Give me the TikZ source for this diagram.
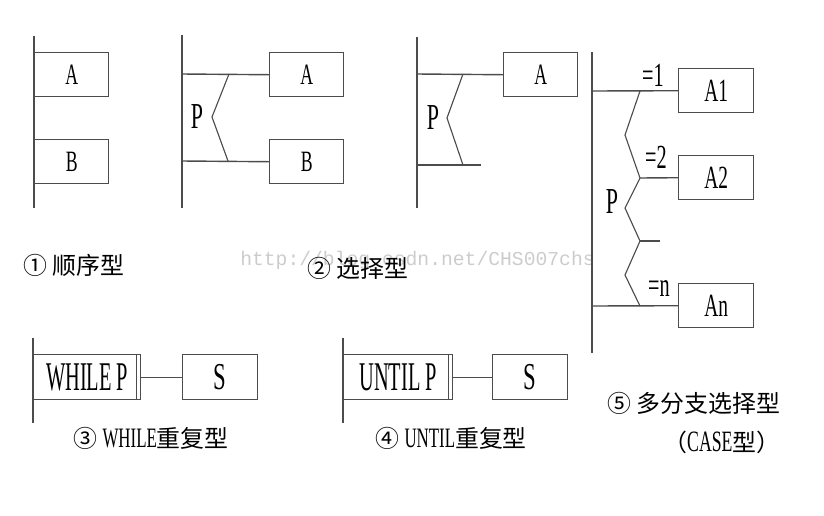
\documentclass[tikz,border=0pt]{standalone}
\usepackage{fontspec}
\setmainfont{Liberation Serif}
\newfontfamily\cjkfont{Noto Sans CJK SC}
\newfontfamily\condfont[FakeStretch=0.6]{Liberation Serif}
\newfontfamily\narrowfont[FakeStretch=0.5]{Liberation Serif}
\newfontfamily\markfont{Liberation Mono}
\usetikzlibrary{positioning}

\begin{document}
\begin{tikzpicture}[
    x=0.025cm, y=-0.025cm,
    wire/.style={draw=black!70, line width=1pt},
    box/.style={wire, anchor=north west, minimum width=1.85cm, minimum height=1.1cm, inner sep=0pt, font=\condfont\fontsize{21}{22}\selectfont},
    casebox/.style={box, minimum width=1.875cm, font=\condfont\fontsize{23}{24}\selectfont},
    loopbox/.style={box, minimum height=1.125cm, font=\narrowfont\fontsize{29}{30}\selectfont},
    bodybox/.style={box, minimum width=1.875cm, minimum height=1.125cm, font=\condfont\fontsize{27}{28}\selectfont},
    cond/.style={inner sep=0pt, font=\condfont\fontsize{26}{27}\selectfont},
    value/.style={inner sep=0pt, font=\condfont\fontsize{24}{25}\selectfont},
    caption/.style={anchor=west, inner sep=0pt, font=\cjkfont\fontsize{17}{20}\selectfont}
]
\useasboundingbox (0,0) rectangle (824,515);

% watermark
\node[inner sep=0pt, anchor=west, text=black!20, font=\markfont\fontsize{14}{16}\selectfont] (mark) at (240,260) {http://blog.csdn.net/CHS007chs};

% 1: sequence
\coordinate (s1top) at (34,36);
\coordinate (s1bot) at (34,208);
\draw[wire] (s1top) -- (s1bot);
\node[box] (sA) at (34,52) {A};
\node[box] (sB) at (34,139) {B};
\node[caption] (cap1) at (23,265) {① 顺序型};

% 2: selection with two branches
\coordinate (c2top) at (182,35);
\coordinate (c2bot) at (182,208);
\draw[wire] (c2top) -- (c2bot);
\node[box] (cA) at (269,52) {A};
\node[box] (cB) at (269,139) {B};
\coordinate (c2a) at (182,74);
\coordinate (c2b) at (182,161);
\draw[wire] (c2a) -- (cA.west);
\draw[wire] (c2b) -- (cB.west);
\draw[wire, line width=0.8pt] (229,74) -- (212,117) -- (228,161);
\node[cond] (cP) at (197,117) {P};

% 2: selection with one branch
\coordinate (i2top) at (417,37);
\coordinate (i2bot) at (417,208);
\draw[wire] (i2top) -- (i2bot);
\node[box] (iA) at (503,52) {A};
\coordinate (i2a) at (417,74);
\coordinate (i2b) at (417,165);
\coordinate (i2e) at (481,165);
\draw[wire] (i2a) -- (iA.west);
\draw[wire] (i2b) -- (i2e);
\draw[wire, line width=0.8pt] (463,74) -- (447,118) -- (463,165);
\node[cond] (iP) at (433,118) {P};
\node[caption] (cap2) at (307,268) {② 选择型};

% 5: case
\coordinate (m5top) at (592,52);
\coordinate (m5bot) at (592,353);
\draw[wire] (m5top) -- (m5bot);
\node[casebox] (m1) at (678,68) {A1};
\node[casebox] (m2) at (678,155) {A2};
\node[casebox] (mn) at (678,283) {An};
\coordinate (m5a) at (592,91);
\coordinate (m5b) at (640,178);
\coordinate (m5n) at (592,306);
\coordinate (m5d) at (640,241);
\coordinate (m5e) at (660,241);
\draw[wire] (m5a) -- (m1.west);
\draw[wire] (m5b) -- (m2.west);
\draw[wire] (m5n) -- (mn.west);
\draw[wire] (m5d) -- (m5e);
\draw[wire, line width=0.8pt] (640,91) -- (625,135) -- (640,178) -- (625,208)
    -- (640,241) -- (625,275) -- (640,306);
\node[value] (v1) at (653,75) {=1};
\node[value] (v2) at (656,157) {=2};
\node[value] (vn) at (659,289) {=n};
\node[cond] (mP) at (612,202) {P};
\node[caption] (cap5) at (607,403) {⑤ 多分支选择型};
\node[caption] (cap5b) at (663,442) {（{\condfont\fontsize{21}{22}\selectfont CASE}型）};

% 3: while
\coordinate (w3top) at (33,338);
\coordinate (w3bot) at (33,423);
\draw[wire] (w3top) -- (w3bot);
\node[loopbox, minimum width=2.675cm] (wp) at (33,354) {WHILE P\hspace{0.12cm}};
\draw[wire] ([xshift=-0.125cm]wp.north east) -- ([xshift=-0.125cm]wp.south east);
\node[bodybox] (ws) at (182,354) {S};
\draw[wire] (wp.east) -- (ws.west);
\node[caption] (cap3) at (73,438) {③ {\condfont\fontsize{20}{22}\selectfont WHILE}重复型};

% 4: until
\coordinate (u4top) at (343,338);
\coordinate (u4bot) at (343,423);
\draw[wire] (u4top) -- (u4bot);
\node[loopbox, minimum width=2.725cm] (up) at (343,354) {UNTIL P\hspace{0.12cm}};
\draw[wire] ([xshift=-0.125cm]up.north east) -- ([xshift=-0.125cm]up.south east);
\node[bodybox] (us) at (492,354) {S};
\draw[wire] (up.east) -- (us.west);
\node[caption] (cap4) at (375,438) {④ {\condfont\fontsize{20}{22}\selectfont UNTIL}重复型};

\end{tikzpicture}
\end{document}
